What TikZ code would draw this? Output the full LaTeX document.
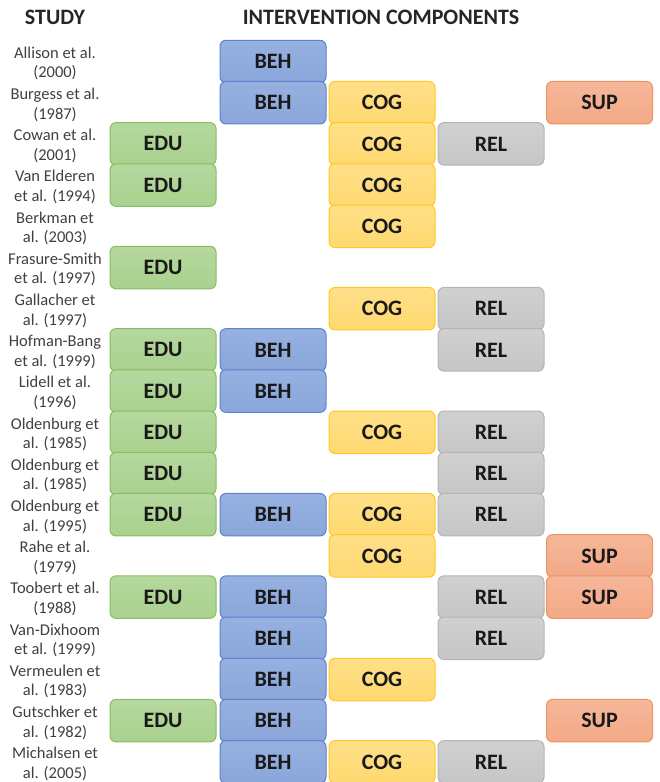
\documentclass[tikz,border=0pt]{standalone}
\usepackage{fontspec}
\setmainfont{Carlito}
\definecolor{eduF}{HTML}{A9D18E}\definecolor{eduT}{HTML}{B5D89E}\definecolor{eduD}{HTML}{86BE62}
\definecolor{behF}{HTML}{8AA6DA}\definecolor{behT}{HTML}{96B0E0}\definecolor{behD}{HTML}{5E82CC}
\definecolor{cogF}{HTML}{FFD970}\definecolor{cogT}{HTML}{FFDF88}\definecolor{cogD}{HTML}{FFC825}
\definecolor{relF}{HTML}{C6C6C6}\definecolor{relT}{HTML}{D0D0D0}\definecolor{relD}{HTML}{B4B4B4}
\definecolor{supF}{HTML}{F3A987}\definecolor{supT}{HTML}{F5B799}\definecolor{supD}{HTML}{EF925E}
\definecolor{lbl}{HTML}{404040}
\definecolor{hdr}{HTML}{262626}
\tikzset{
  comp/.style={rounded corners=6pt, minimum width=106pt, minimum height=42.5pt, inner sep=0pt,
    line width=1pt, text=black!90, font=\fontsize{22}{24}\selectfont\bfseries},
  boxE/.style={comp, draw=eduD, top color=eduT, bottom color=eduF},
  boxB/.style={comp, draw=behD, top color=behT, bottom color=behF},
  boxC/.style={comp, draw=cogD, top color=cogT, bottom color=cogF},
  boxR/.style={comp, draw=relD, top color=relT, bottom color=relF},
  boxS/.style={comp, draw=supD, top color=supT, bottom color=supF},
  study/.style={align=center, text=lbl, inner sep=0pt, font=\fontsize{16.5}{19.5}\selectfont},
  header/.style={text=hdr, inner sep=0pt, font=\fontsize{22}{26}\selectfont\bfseries}
}
\begin{document}
\begin{tikzpicture}[x=1pt,y=1pt]
\useasboundingbox (0,0) rectangle (659,-782);
\node[header] (hstudy) at (55,-17) {STUDY};
\node[header] (hint) at (381,-17) {INTERVENTION COMPONENTS};
\foreach \r/\txt in {
  1/{Allison et al.\\(2000)},
  2/{Burgess et al.\\(1987)},
  3/{Cowan et al.\\(2001)},
  4/{Van Elderen\\et al. (1994)},
  5/{Berkman et\\al. (2003)},
  6/{Frasure-Smith\\et al. (1997)},
  7/{Gallacher et\\al. (1997)},
  8/{Hofman-Bang\\et al. (1999)},
  9/{Lidell et al.\\(1996)},
  10/{Oldenburg et\\al. (1985)},
  11/{Oldenburg et\\al. (1985)},
  12/{Oldenburg et\\al. (1995)},
  13/{Rahe et al.\\(1979)},
  14/{Toobert et al.\\(1988)},
  15/{Van-Dixhoom\\et al. (1999)},
  16/{Vermeulen et\\al. (1983)},
  17/{Gutschker et\\al. (1982)},
  18/{Michalsen et\\al. (2005)}}{
  \pgfmathsetmacro{\yy}{-(63.5+41.2*(\r-1))}
  \node[study] (s\r) at (55,\yy) {\txt};
}
\foreach \r/\cols in {
  1/{B},
  2/{B,C,S},
  3/{E,C,R},
  4/{E,C},
  5/{C},
  6/{E},
  7/{C,R},
  8/{E,B,R},
  9/{E,B},
  10/{E,C,R},
  11/{E,R},
  12/{E,B,C,R},
  13/{C,S},
  14/{E,B,R,S},
  15/{B,R},
  16/{B,C},
  17/{E,B,S},
  18/{B,C,R}}{
  \pgfmathsetmacro{\yy}{-(61.5+41.2*(\r-1))}
  \foreach \c in \cols {
    \if\c E\def\xx{163}\def\lab{EDU}\fi
    \if\c B\def\xx{273}\def\lab{BEH}\fi
    \if\c C\def\xx{382}\def\lab{COG}\fi
    \if\c R\def\xx{491}\def\lab{REL}\fi
    \if\c S\def\xx{599.5}\def\lab{SUP}\fi
    \node[box\c] (\c\r) at (\xx,\yy) {\lab};
  }
}
\end{tikzpicture}
\end{document}
